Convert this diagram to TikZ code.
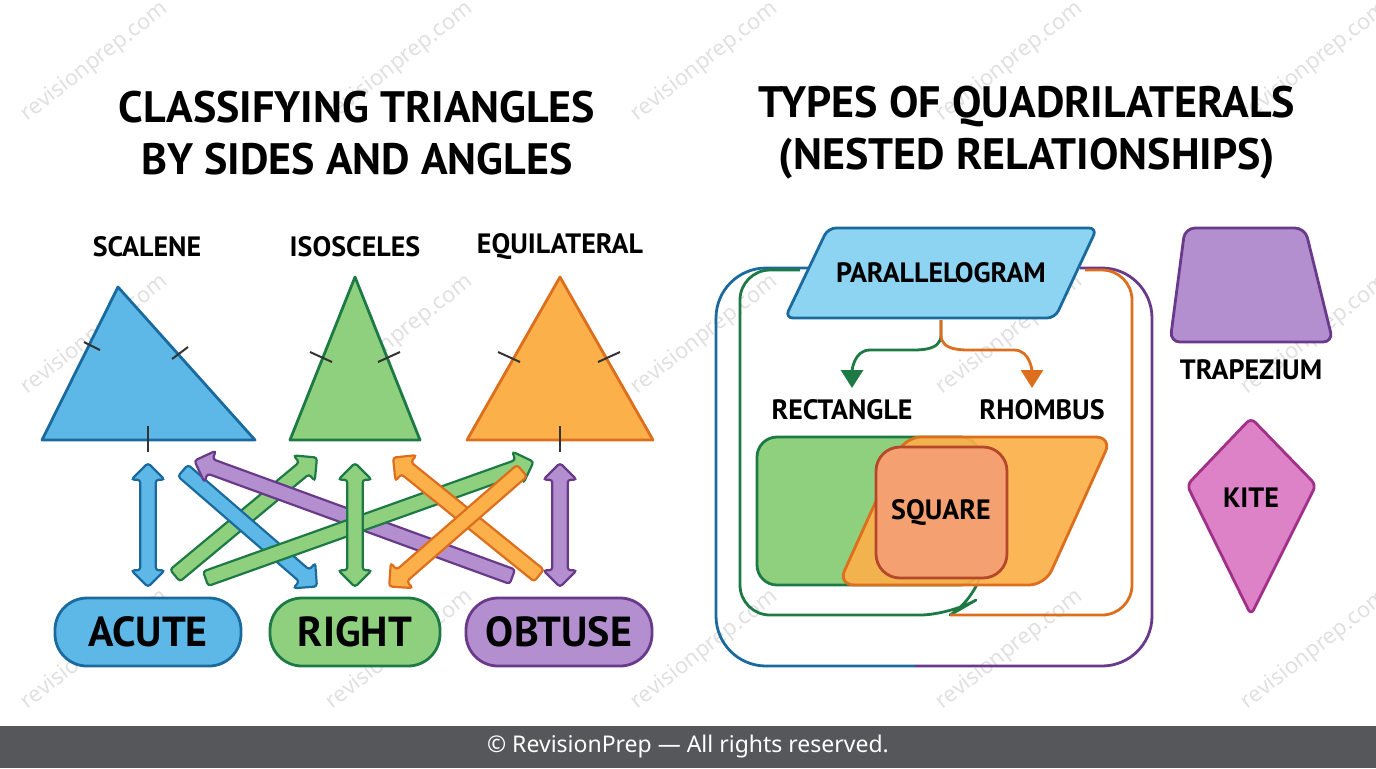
\documentclass[tikz,border=0pt]{standalone}
\usepackage{fontspec}
\setmainfont{PT Sans}
\newfontfamily\footfont{Noto Sans}
\usetikzlibrary{calc,shapes.arrows,arrows.meta}
\definecolor{bluef}{HTML}{5DB8E8}\definecolor{blued}{HTML}{1A6A9E}
\definecolor{greenf}{HTML}{8FD07F}\definecolor{greend}{HTML}{1E7A45}
\definecolor{orangef}{HTML}{FBB04A}\definecolor{oranged}{HTML}{DD6E1E}
\definecolor{purplef}{HTML}{B48FD0}\definecolor{purpled}{HTML}{6A3A8A}
\definecolor{pinkf}{HTML}{DE82C8}\definecolor{pinkd}{HTML}{A03088}
\definecolor{parf}{HTML}{8CD4F2}\definecolor{squf}{HTML}{F4A070}\definecolor{squd}{HTML}{B5482A}
\definecolor{footbg}{HTML}{55575B}
\tikzset{
  title/.style={font=\fontsize{22}{26}\selectfont\bfseries, align=center},
  lbl/.style={font=\fontsize{14}{16}\selectfont\bfseries},
  pill/.style={rounded corners=16pt, minimum width=#1, minimum height=34pt, line width=1.4pt, font=\fontsize{21}{24}\selectfont\bfseries},
  shp/.style={line width=1.4pt, line join=round},
  tick/.style={line width=1pt, black!80},
  wmark/.style={text=black!12, rotate=38, font=\footfont\fontsize{11}{12}\selectfont},
}
% fat arrow between two coordinates: shape, from, to, fill, draw
\newcommand\fatarrow[5]{%
  \path let \p1=($(#3)-(#2)$), \n1={veclen(\x1,\y1)}, \n2={atan2(\y1,\x1)} in
    node[#1, fill=#4, draw=#5, line width=1.1pt, minimum height=\n1, inner sep=3.3pt,
      minimum width=15pt, single arrow head extend=4.5pt, double arrow head extend=4.5pt,
      rounded corners=1.5pt, rotate=\n2, anchor=center] at ($(#2)!0.5!(#3)$) {};}
\begin{document}
\begin{tikzpicture}[x=0.5pt, y=-0.5pt]
\useasboundingbox (0,0) rectangle (1376,768);
% watermarks
\foreach \wx in {95,400,705,1010,1315}
  \foreach \wy in {62,335,650}
    \node[wmark] at (\wx,\wy) {revisionprep.com};
% titles
\node[title] (ttri) at (357,133) {CLASSIFYING TRIANGLES\\BY SIDES AND ANGLES};
\node[title] (tquad) at (1027,133) {TYPES OF QUADRILATERALS\\(NESTED RELATIONSHIPS)};
% triangles
\node[lbl] (lsca) at (147,247) {SCALENE};
\node[lbl] (liso) at (355,247) {ISOSCELES};
\node[lbl] (lequ) at (560,247) {EQUILATERAL};
\draw[shp, fill=bluef, draw=blued] (118,287) -- (42,440) -- (255,440) -- cycle;
\draw[shp, fill=greenf, draw=greend] (355,277) -- (290,440) -- (420,440) -- cycle;
\draw[shp, fill=orangef, draw=oranged] (560,277) -- (467,440) -- (653,440) -- cycle;
\draw[tick] (84,342) -- (100,350); \draw[tick] (172,359) -- (188,347);
\draw[tick] (148,426) -- (148,452);
\draw[tick] (310,352) -- (332,362); \draw[tick] (378,362) -- (400,352);
\draw[tick] (498,352) -- (520,362); \draw[tick] (598,362) -- (620,352);
\draw[tick] (560,426) -- (560,452);
% class pills
\node[pill=93pt, fill=bluef, draw=blued] (acute) at (148,632) {ACUTE};
\node[pill=85pt, fill=greenf, draw=greend] (right) at (355,632) {RIGHT};
\node[pill=93pt, fill=purplef, draw=purpled] (obtuse) at (559,632) {OBTUSE};
% arrow ends
\coordinate (a1) at (148,463); \coordinate (a2) at (148,587);
\coordinate (b1) at (180,468); \coordinate (b2) at (314,584);
\coordinate (c1) at (516,578); \coordinate (c2) at (198,462);
\coordinate (d1) at (172,578); \coordinate (d2) at (314,460);
\coordinate (e1) at (202,580); \coordinate (e2) at (530,463);
\coordinate (f1) at (355,463); \coordinate (f2) at (355,587);
\coordinate (g1) at (525,468); \coordinate (g2) at (392,584);
\coordinate (h1) at (542,578); \coordinate (h2) at (396,460);
\coordinate (k1) at (560,463); \coordinate (k2) at (560,587);
\fatarrow{double arrow}{a1}{a2}{bluef}{blued}
\fatarrow{single arrow}{d1}{d2}{greenf}{greend}
\fatarrow{single arrow}{b1}{b2}{bluef}{blued}
\fatarrow{single arrow}{c1}{c2}{purplef}{purpled}
\fatarrow{single arrow}{e1}{e2}{greenf}{greend}
\fatarrow{double arrow}{f1}{f2}{greenf}{greend}
\fatarrow{single arrow}{h1}{h2}{orangef}{oranged}
\fatarrow{single arrow}{g1}{g2}{orangef}{oranged}
\fatarrow{double arrow}{k1}{k2}{purplef}{purpled}
% nested frames
\draw[shp, blued, rounded corners=25pt] (915,666) -- (716,666) -- (716,268) -- (810,268);
\draw[shp, purpled, rounded corners=25pt] (1080,268) -- (1152,268) -- (1152,666) -- (915,666);
\draw[shp, greend, rounded corners=15pt] (800,270) -- (740,270) -- (740,615) -- (950,615) -- (976,600) -- (980,580);
\draw[shp, oranged, rounded corners=15pt] (1085,270) -- (1132,270) -- (1132,615) -- (950,615);
% parallelogram and branches
\draw[shp, fill=parf, draw=blued, rounded corners=4pt] (828,228) -- (1097,228) -- (1055,318) -- (785,318) -- cycle;
\node[lbl] (par) at (941,273) {PARALLELOGRAM};
\coordinate (br) at (941,320);
\draw[shp, greend, -{Triangle[length=9pt,width=11pt]}] (br) -- (941,335) to[out=-90, in=0] (900,350) -- (870,350) to[out=180, in=90] (852,388);
\draw[shp, oranged, -{Triangle[length=9pt,width=11pt]}] (br) -- (941,335) to[out=-90, in=180] (982,350) -- (1014,350) to[out=0, in=90] (1032,388);
\node[lbl] (lrect) at (842,410) {RECTANGLE};
\node[lbl] (lrho) at (1042,410) {RHOMBUS};
\draw[shp, fill=greenf, draw=greend, rounded corners=10pt] (757,437) rectangle (980,585);
\draw[shp, fill=orangef, fill opacity=0.92, draw=oranged, rounded corners=8pt] (905,437) -- (1112,437) -- (1045,585) -- (838,585) -- cycle;
\draw[shp, fill=squf, draw=squd, rounded corners=12pt] (876,447) rectangle (1007,578);
\node[lbl] (squ) at (941,512) {SQUARE};
% trapezium and kite
\draw[shp, fill=purplef, draw=purpled, rounded corners=5pt] (1185,228) -- (1305,228) -- (1333,342) -- (1170,342) -- cycle;
\node[lbl] (ltrap) at (1251,370) {TRAPEZIUM};
\draw[shp, fill=pinkf, draw=pinkd, rounded corners=3pt] (1251,418) -- (1316,485) -- (1251,615) -- (1187,485) -- cycle;
\node[lbl] (kite) at (1251,498) {KITE};
% footer
\fill[footbg] (0,726) rectangle (1376,768);
\node[text=white, font=\footfont\fontsize{11.5}{13}\selectfont] (foot) at (688,747) {© RevisionPrep — All rights reserved.};
\end{tikzpicture}
\end{document}
